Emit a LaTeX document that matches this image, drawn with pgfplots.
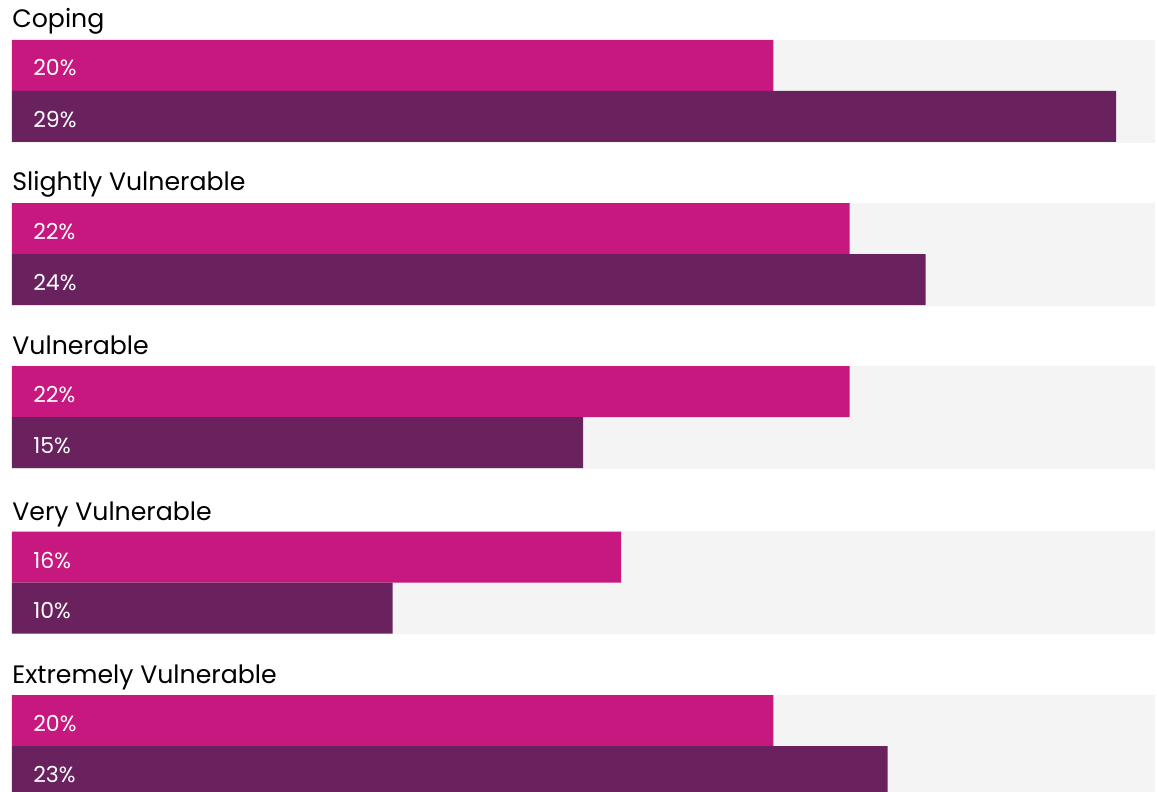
\documentclass[border=0pt]{standalone}
\usepackage{pgfplots}
\pgfplotsset{compat=1.18}
\usepackage{fontspec}
\setmainfont{Poppins}
\definecolor{mag}{HTML}{C7187F}
\definecolor{pur}{HTML}{6A225F}
\definecolor{bg}{HTML}{F4F4F4}
\tikzset{
  glab/.style={anchor=base west, inner sep=0pt, font=\fontsize{12.6}{14}\selectfont},
  vlab/.style={anchor=base west, inner sep=0pt, text=white, font=\fontsize{11}{13}\selectfont},
}
\begin{document}
\begin{tikzpicture}
\begin{axis}[
  scale only axis, width=578.5pt, height=396pt,
  xmin=-0.3152, xmax=30.076, ymin=0, ymax=792, y dir=reverse,
  hide axis, xbar, bar shift=0pt, bar width=51,
  clip=true,
]
\addplot[fill=bg, draw=bg, line width=0.2pt] coordinates {
 (30,65.5) (30,116.5) (30,228.5) (30,279.5) (30,391.5) (30,442.5)
 (30,557) (30,608) (30,720.5) (30,771.5)};
\addplot[fill=mag, draw=none] coordinates {
 (20,65.5) (22,228.5) (22,391.5) (16,557) (20,720.5)};
\addplot[fill=pur, draw=none] coordinates {
 (29,116.5) (24,279.5) (15,442.5) (10,608) (23,771.5)};
\path (rel axis cs:0,0) rectangle (rel axis cs:1,1);
\node[glab] at (axis cs:0,28) {Coping};
\node[glab] at (axis cs:0,191) {Slightly Vulnerable};
\node[glab] at (axis cs:0,354) {Vulnerable};
\node[glab] at (axis cs:0,520) {Very Vulnerable};
\node[glab] at (axis cs:0,683) {Extremely Vulnerable};
\node[vlab] at (axis cs:0.55,76) {20\%};
\node[vlab] at (axis cs:0.55,127) {29\%};
\node[vlab] at (axis cs:0.55,239) {22\%};
\node[vlab] at (axis cs:0.55,290) {24\%};
\node[vlab] at (axis cs:0.55,402) {22\%};
\node[vlab] at (axis cs:0.55,453) {15\%};
\node[vlab] at (axis cs:0.55,568) {16\%};
\node[vlab] at (axis cs:0.55,618) {10\%};
\node[vlab] at (axis cs:0.55,731) {20\%};
\node[vlab] at (axis cs:0.55,782) {23\%};
\end{axis}
\end{tikzpicture}
\end{document}
